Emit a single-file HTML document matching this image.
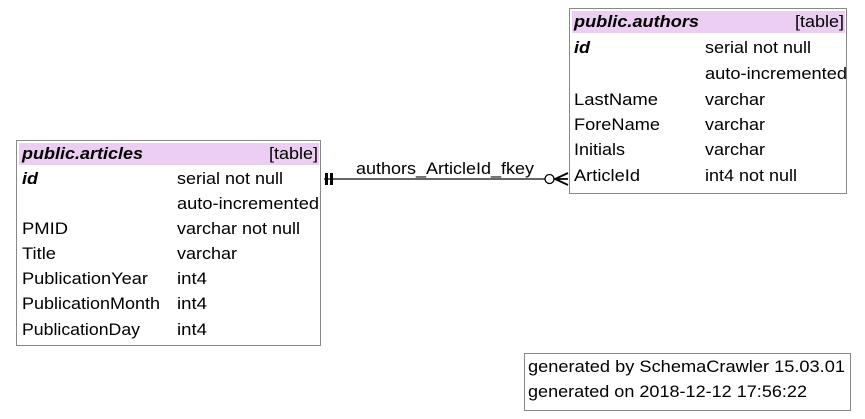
<!DOCTYPE html>
<html><head><meta charset="utf-8"><style>
html,body{margin:0;padding:0;background:#fff;}
svg{display:block;}
text{font-family:"Liberation Sans",sans-serif;font-size:16.5px;fill:#000;}
.b{font-weight:bold;font-style:italic;}
</style></head><body>
<svg width="865" height="419" viewBox="0 0 865 419" xmlns="http://www.w3.org/2000/svg">
<g lengthAdjust="spacingAndGlyphs">
<!-- articles -->
<rect x="16.5" y="140.5" width="304" height="205" fill="#fff" stroke="#888" stroke-width="1"/>
<rect x="19" y="143" width="300" height="22" fill="#ebcef2"/>
<text x="22" y="159" class="b" textLength="121" lengthAdjust="spacingAndGlyphs">public.articles</text>
<text x="269" y="159" textLength="49" lengthAdjust="spacingAndGlyphs">[table]</text>
<text x="22" y="184" class="b" textLength="16" lengthAdjust="spacingAndGlyphs">id</text>
<text x="177" y="184" textLength="106" lengthAdjust="spacingAndGlyphs">serial not null</text>
<text x="177" y="209" textLength="142" lengthAdjust="spacingAndGlyphs">auto-incremented</text>
<text x="22" y="234" textLength="46" lengthAdjust="spacingAndGlyphs">PMID</text><text x="177" y="234" textLength="123" lengthAdjust="spacingAndGlyphs">varchar not null</text>
<text x="22" y="259" textLength="34" lengthAdjust="spacingAndGlyphs">Title</text><text x="177" y="259" textLength="60" lengthAdjust="spacingAndGlyphs">varchar</text>
<text x="22" y="284" textLength="126" lengthAdjust="spacingAndGlyphs">PublicationYear</text><text x="177" y="284" textLength="30" lengthAdjust="spacingAndGlyphs">int4</text>
<text x="22" y="309" textLength="138" lengthAdjust="spacingAndGlyphs">PublicationMonth</text><text x="177" y="309" textLength="30" lengthAdjust="spacingAndGlyphs">int4</text>
<text x="22" y="335" textLength="118" lengthAdjust="spacingAndGlyphs">PublicationDay</text><text x="177" y="335" textLength="30" lengthAdjust="spacingAndGlyphs">int4</text>
<!-- authors -->
<rect x="569.5" y="8.5" width="277" height="185" fill="#fff" stroke="#888" stroke-width="1"/>
<rect x="572" y="11" width="273" height="22" fill="#ebcef2"/>
<text x="574" y="27" class="b" textLength="125" lengthAdjust="spacingAndGlyphs">public.authors</text>
<text x="795" y="27" textLength="49" lengthAdjust="spacingAndGlyphs">[table]</text>
<text x="574" y="53" class="b" textLength="16" lengthAdjust="spacingAndGlyphs">id</text>
<text x="705" y="53" textLength="106" lengthAdjust="spacingAndGlyphs">serial not null</text>
<text x="705" y="79" textLength="142" lengthAdjust="spacingAndGlyphs">auto-incremented</text>
<text x="574" y="105" textLength="84" lengthAdjust="spacingAndGlyphs">LastName</text><text x="705" y="105" textLength="60" lengthAdjust="spacingAndGlyphs">varchar</text>
<text x="574" y="130" textLength="86" lengthAdjust="spacingAndGlyphs">ForeName</text><text x="705" y="130" textLength="60" lengthAdjust="spacingAndGlyphs">varchar</text>
<text x="574" y="155" textLength="51" lengthAdjust="spacingAndGlyphs">Initials</text><text x="705" y="155" textLength="60" lengthAdjust="spacingAndGlyphs">varchar</text>
<text x="574" y="181" textLength="66" lengthAdjust="spacingAndGlyphs">ArticleId</text><text x="705" y="181" textLength="92" lengthAdjust="spacingAndGlyphs">int4 not null</text>
<!-- edge -->
<line x1="324" y1="179" x2="545" y2="179" stroke="#333" stroke-width="1.5"/>
<rect x="325" y="173" width="3" height="12" fill="#000"/>
<rect x="330" y="173" width="3" height="12" fill="#000"/>
<circle cx="549.5" cy="179" r="4.5" fill="#fff" stroke="#000" stroke-width="1.3"/>
<path d="M568 173 L555 179 L568 185 M555 179 L568 179" fill="none" stroke="#000" stroke-width="1.8"/>
<text x="356" y="174" textLength="178" lengthAdjust="spacingAndGlyphs">authors_ArticleId_fkey</text>
<!-- footer -->
<rect x="524.5" y="353.5" width="326" height="57" fill="#fff" stroke="#888" stroke-width="1"/>
<text x="528" y="372" textLength="317" lengthAdjust="spacingAndGlyphs">generated by SchemaCrawler 15.03.01</text>
<text x="528" y="397" textLength="279" lengthAdjust="spacingAndGlyphs">generated on 2018-12-12 17:56:22</text>
</g>
</svg>
</body></html>
